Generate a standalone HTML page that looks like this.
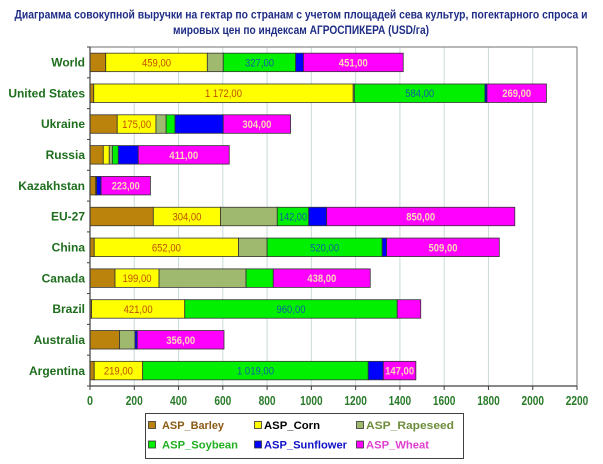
<!DOCTYPE html>
<html>
<head>
<meta charset="utf-8">
<style>
html,body{margin:0;padding:0;background:#fff;}
svg{display:block;}
.t{font-family:"Liberation Sans","DejaVu Sans",sans-serif;font-weight:bold;fill:#1f2d86;font-size:12px;}
.cat{font-family:"Liberation Sans",sans-serif;font-weight:bold;fill:#1e6e1e;font-size:12px;}
.tk{font-family:"Liberation Sans",sans-serif;font-weight:bold;fill:#2a7a2a;font-size:13px;}
.lc{font-family:"Liberation Sans",sans-serif;font-size:11px;fill:#c05000;}
.ls{font-family:"Liberation Sans",sans-serif;font-size:11px;fill:#1060a0;}
.lw{font-family:"Liberation Sans",sans-serif;font-size:11px;font-weight:bold;fill:#ffd6b8;}
.lg{font-family:"Liberation Sans",sans-serif;font-size:11px;font-weight:bold;}
</style>
</head>
<body>
<svg width="603" height="464" viewBox="0 0 603 464" xmlns="http://www.w3.org/2000/svg">
<rect x="0" y="0" width="603" height="464" fill="#fff"/>
<!-- Title -->
<text class="t" x="301" y="18.5" text-anchor="middle" textLength="573" lengthAdjust="spacingAndGlyphs">Диаграмма совокупной выручки на гектар по странам с учетом площадей сева культур, погектарного спроса и</text>
<text class="t" x="301" y="34" text-anchor="middle" textLength="256" lengthAdjust="spacingAndGlyphs">мировых цен по индексам АГРОСПИКЕРА (USD/га)</text>

<!-- gridlines -->
<g stroke="#c8dcd4" stroke-width="1">
<line x1="134.27" y1="47" x2="134.27" y2="386"/>
<line x1="178.55" y1="47" x2="178.55" y2="386"/>
<line x1="222.82" y1="47" x2="222.82" y2="386"/>
<line x1="267.09" y1="47" x2="267.09" y2="386"/>
<line x1="311.36" y1="47" x2="311.36" y2="386"/>
<line x1="355.64" y1="47" x2="355.64" y2="386"/>
<line x1="399.91" y1="47" x2="399.91" y2="386"/>
<line x1="444.18" y1="47" x2="444.18" y2="386"/>
<line x1="488.45" y1="47" x2="488.45" y2="386"/>
<line x1="532.73" y1="47" x2="532.73" y2="386"/>
</g>
<!-- border top/right -->
<line x1="90" y1="47" x2="577" y2="47" stroke="#8c8c8c" stroke-width="1.2"/>
<line x1="577" y1="47" x2="577" y2="386" stroke="#8c8c8c" stroke-width="1.2"/>

<!-- Bars -->
<g stroke="#333" stroke-width="0.8">
<!-- World c=62.41 -->
<rect x="90" y="53.16" width="15.72" height="18.5" fill="#bb830c"/>
<rect x="105.72" y="53.16" width="101.6" height="18.5" fill="#ffff00"/>
<rect x="207.32" y="53.16" width="15.94" height="18.5" fill="#9fba6e"/>
<rect x="223.26" y="53.16" width="72.39" height="18.5" fill="#00f000"/>
<rect x="295.65" y="53.16" width="7.74" height="18.5" fill="#0000ff"/>
<rect x="303.39" y="53.16" width="99.84" height="18.5" fill="#ff00ff"/>
<!-- US c=93.23 -->
<rect x="90" y="83.98" width="3.76" height="18.5" fill="#bb830c"/>
<rect x="93.76" y="83.98" width="259.44" height="18.5" fill="#ffff00"/>
<rect x="353.2" y="83.98" width="1.11" height="18.5" fill="#9fba6e"/>
<rect x="354.31" y="83.98" width="130.69" height="18.5" fill="#00f000"/>
<rect x="485" y="83.98" width="2" height="18.5" fill="#0000ff"/>
<rect x="487" y="83.98" width="59.45" height="18.5" fill="#ff00ff"/>
<!-- Ukraine c=124.05 -->
<rect x="90" y="114.8" width="27.23" height="18.5" fill="#bb830c"/>
<rect x="117.23" y="114.8" width="38.74" height="18.5" fill="#ffff00"/>
<rect x="155.97" y="114.8" width="10.18" height="18.5" fill="#9fba6e"/>
<rect x="166.15" y="114.8" width="8.85" height="18.5" fill="#00f000"/>
<rect x="175" y="114.8" width="48.26" height="18.5" fill="#0000ff"/>
<rect x="223.26" y="114.8" width="67.3" height="18.5" fill="#ff00ff"/>
<!-- Russia c=154.86 -->
<rect x="90" y="145.61" width="13.28" height="18.5" fill="#bb830c"/>
<rect x="103.28" y="145.61" width="5.98" height="18.5" fill="#ffff00"/>
<rect x="109.26" y="145.61" width="3.1" height="18.5" fill="#9fba6e"/>
<rect x="112.36" y="145.61" width="5.97" height="18.5" fill="#00f000"/>
<rect x="118.33" y="145.61" width="19.93" height="18.5" fill="#0000ff"/>
<rect x="138.26" y="145.61" width="90.98" height="18.5" fill="#ff00ff"/>
<!-- Kazakhstan c=185.68 -->
<rect x="90" y="176.43" width="5.76" height="18.5" fill="#bb830c"/>
<rect x="95.76" y="176.43" width="0.44" height="18.5" fill="#ffff00"/>
<rect x="96.2" y="176.43" width="0.44" height="18.5" fill="#9fba6e"/>
<rect x="96.64" y="176.43" width="4.43" height="18.5" fill="#0000ff"/>
<rect x="101.07" y="176.43" width="49.36" height="18.5" fill="#ff00ff"/>
<!-- EU-27 c=216.5 -->
<rect x="90" y="207.25" width="63.31" height="18.5" fill="#bb830c"/>
<rect x="153.31" y="207.25" width="67.29" height="18.5" fill="#ffff00"/>
<rect x="220.6" y="207.25" width="56.67" height="18.5" fill="#9fba6e"/>
<rect x="277.27" y="207.25" width="31.43" height="18.5" fill="#00f000"/>
<rect x="308.7" y="207.25" width="17.94" height="18.5" fill="#0000ff"/>
<rect x="326.64" y="207.25" width="188.15" height="18.5" fill="#ff00ff"/>
<!-- China c=247.32 -->
<rect x="90" y="238.07" width="4.21" height="18.5" fill="#bb830c"/>
<rect x="94.21" y="238.07" width="144.33" height="18.5" fill="#ffff00"/>
<rect x="238.54" y="238.07" width="28.55" height="18.5" fill="#9fba6e"/>
<rect x="267.09" y="238.07" width="115.11" height="18.5" fill="#00f000"/>
<rect x="382.2" y="238.07" width="4.43" height="18.5" fill="#0000ff"/>
<rect x="386.63" y="238.07" width="112.67" height="18.5" fill="#ff00ff"/>
<!-- Canada c=278.14 -->
<rect x="90" y="268.89" width="25.01" height="18.5" fill="#bb830c"/>
<rect x="115.01" y="268.89" width="44.05" height="18.5" fill="#ffff00"/>
<rect x="159.06" y="268.89" width="87" height="18.5" fill="#9fba6e"/>
<rect x="246.06" y="268.89" width="27.23" height="18.5" fill="#00f000"/>
<rect x="273.29" y="268.89" width="96.96" height="18.5" fill="#ff00ff"/>
<!-- Brazil c=308.95 -->
<rect x="90" y="299.7" width="1.55" height="18.5" fill="#bb830c"/>
<rect x="91.55" y="299.7" width="93.19" height="18.5" fill="#ffff00"/>
<rect x="184.74" y="299.7" width="212.51" height="18.5" fill="#00f000"/>
<rect x="397.25" y="299.7" width="23.47" height="18.5" fill="#ff00ff"/>
<!-- Australia c=339.77 -->
<rect x="90" y="330.52" width="29.5" height="18.5" fill="#bb830c"/>
<rect x="119.5" y="330.52" width="15.5" height="18.5" fill="#9fba6e"/>
<rect x="135" y="330.52" width="2.3" height="18.5" fill="#0000ff"/>
<rect x="137.3" y="330.52" width="86.7" height="18.5" fill="#ff00ff"/>
<!-- Argentina c=370.59 -->
<rect x="90" y="361.34" width="4.21" height="18.5" fill="#bb830c"/>
<rect x="94.21" y="361.34" width="48.47" height="18.5" fill="#ffff00"/>
<rect x="142.68" y="361.34" width="225.58" height="18.5" fill="#00f000"/>
<rect x="368.26" y="361.34" width="15.05" height="18.5" fill="#0000ff"/>
<rect x="383.31" y="361.34" width="32.54" height="18.5" fill="#ff00ff"/>
</g>

<!-- Bar labels -->
<text class="lc" x="156.5" y="66.4" text-anchor="middle" textLength="29" lengthAdjust="spacingAndGlyphs">459,00</text>
<text class="ls" x="259.5" y="66.4" text-anchor="middle" textLength="29" lengthAdjust="spacingAndGlyphs">327,00</text>
<text class="lw" x="353.3" y="66.4" text-anchor="middle" textLength="29" lengthAdjust="spacingAndGlyphs">451,00</text>

<text class="lc" x="223.5" y="97.2" text-anchor="middle" textLength="37" lengthAdjust="spacingAndGlyphs">1 172,00</text>
<text class="ls" x="419.7" y="97.2" text-anchor="middle" textLength="29" lengthAdjust="spacingAndGlyphs">584,00</text>
<text class="lw" x="516.7" y="97.2" text-anchor="middle" textLength="29" lengthAdjust="spacingAndGlyphs">269,00</text>

<text class="lc" x="136.6" y="128" text-anchor="middle" textLength="29" lengthAdjust="spacingAndGlyphs">175,00</text>
<text class="lw" x="256.9" y="128" text-anchor="middle" textLength="29" lengthAdjust="spacingAndGlyphs">304,00</text>

<text class="lw" x="183.75" y="158.9" text-anchor="middle" textLength="29" lengthAdjust="spacingAndGlyphs">411,00</text>

<text class="lw" x="125.75" y="189.7" text-anchor="middle" textLength="28" lengthAdjust="spacingAndGlyphs">223,00</text>

<text class="lc" x="186.96" y="220.5" text-anchor="middle" textLength="29" lengthAdjust="spacingAndGlyphs">304,00</text>
<text class="ls" x="293" y="220.5" text-anchor="middle" textLength="28" lengthAdjust="spacingAndGlyphs">142,00</text>
<text class="lw" x="420.7" y="220.5" text-anchor="middle" textLength="29" lengthAdjust="spacingAndGlyphs">850,00</text>

<text class="lc" x="166.4" y="251.3" text-anchor="middle" textLength="29" lengthAdjust="spacingAndGlyphs">652,00</text>
<text class="ls" x="324.6" y="251.3" text-anchor="middle" textLength="29" lengthAdjust="spacingAndGlyphs">520,00</text>
<text class="lw" x="443" y="251.3" text-anchor="middle" textLength="29" lengthAdjust="spacingAndGlyphs">509,00</text>

<text class="lc" x="137" y="282.1" text-anchor="middle" textLength="29" lengthAdjust="spacingAndGlyphs">199,00</text>
<text class="lw" x="321.8" y="282.1" text-anchor="middle" textLength="29" lengthAdjust="spacingAndGlyphs">438,00</text>

<text class="lc" x="138.1" y="313" text-anchor="middle" textLength="29" lengthAdjust="spacingAndGlyphs">421,00</text>
<text class="ls" x="291" y="313" text-anchor="middle" textLength="29" lengthAdjust="spacingAndGlyphs">960,00</text>

<text class="lw" x="180.7" y="343.8" text-anchor="middle" textLength="29" lengthAdjust="spacingAndGlyphs">356,00</text>

<text class="lc" x="118.4" y="374.6" text-anchor="middle" textLength="29" lengthAdjust="spacingAndGlyphs">219,00</text>
<text class="ls" x="255.5" y="374.6" text-anchor="middle" textLength="37" lengthAdjust="spacingAndGlyphs">1 019,00</text>
<text class="lw" x="399.6" y="374.6" text-anchor="middle" textLength="29" lengthAdjust="spacingAndGlyphs">147,00</text>

<!-- Axes -->
<line x1="90" y1="47" x2="90" y2="386" stroke="#404040" stroke-width="1.2"/>
<line x1="90" y1="386" x2="577" y2="386" stroke="#404040" stroke-width="1.2"/>
<g stroke="#404040" stroke-width="1">
<line x1="87" y1="47" x2="90" y2="47"/>
<line x1="87" y1="77.82" x2="90" y2="77.82"/>
<line x1="87" y1="108.64" x2="90" y2="108.64"/>
<line x1="87" y1="139.45" x2="90" y2="139.45"/>
<line x1="87" y1="170.27" x2="90" y2="170.27"/>
<line x1="87" y1="201.09" x2="90" y2="201.09"/>
<line x1="87" y1="231.91" x2="90" y2="231.91"/>
<line x1="87" y1="262.73" x2="90" y2="262.73"/>
<line x1="87" y1="293.55" x2="90" y2="293.55"/>
<line x1="87" y1="324.36" x2="90" y2="324.36"/>
<line x1="87" y1="355.18" x2="90" y2="355.18"/>
<line x1="87" y1="386" x2="90" y2="386"/>
<line x1="90" y1="386" x2="90" y2="390"/>
<line x1="134.27" y1="386" x2="134.27" y2="390"/>
<line x1="178.55" y1="386" x2="178.55" y2="390"/>
<line x1="222.82" y1="386" x2="222.82" y2="390"/>
<line x1="267.09" y1="386" x2="267.09" y2="390"/>
<line x1="311.36" y1="386" x2="311.36" y2="390"/>
<line x1="355.64" y1="386" x2="355.64" y2="390"/>
<line x1="399.91" y1="386" x2="399.91" y2="390"/>
<line x1="444.18" y1="386" x2="444.18" y2="390"/>
<line x1="488.45" y1="386" x2="488.45" y2="390"/>
<line x1="532.73" y1="386" x2="532.73" y2="390"/>
<line x1="577" y1="386" x2="577" y2="390"/>
</g>

<!-- Category labels -->
<text class="cat" x="85" y="66.6" text-anchor="end">World</text>
<text class="cat" x="85" y="97.4" text-anchor="end">United States</text>
<text class="cat" x="85" y="128.2" text-anchor="end">Ukraine</text>
<text class="cat" x="85" y="159" text-anchor="end">Russia</text>
<text class="cat" x="85" y="189.9" text-anchor="end">Kazakhstan</text>
<text class="cat" x="85" y="220.7" text-anchor="end">EU-27</text>
<text class="cat" x="85" y="251.5" text-anchor="end">China</text>
<text class="cat" x="85" y="282.3" text-anchor="end">Canada</text>
<text class="cat" x="85" y="313.1" text-anchor="end">Brazil</text>
<text class="cat" x="85" y="344" text-anchor="end">Australia</text>
<text class="cat" x="85" y="374.8" text-anchor="end">Argentina</text>

<!-- X tick labels -->
<text class="tk" x="90" y="405" text-anchor="middle" textLength="6" lengthAdjust="spacingAndGlyphs">0</text>
<text class="tk" x="134.27" y="405" text-anchor="middle" textLength="17" lengthAdjust="spacingAndGlyphs">200</text>
<text class="tk" x="178.55" y="405" text-anchor="middle" textLength="17" lengthAdjust="spacingAndGlyphs">400</text>
<text class="tk" x="222.82" y="405" text-anchor="middle" textLength="17" lengthAdjust="spacingAndGlyphs">600</text>
<text class="tk" x="267.09" y="405" text-anchor="middle" textLength="17" lengthAdjust="spacingAndGlyphs">800</text>
<text class="tk" x="311.36" y="405" text-anchor="middle" textLength="22.5" lengthAdjust="spacingAndGlyphs">1000</text>
<text class="tk" x="355.64" y="405" text-anchor="middle" textLength="22.5" lengthAdjust="spacingAndGlyphs">1200</text>
<text class="tk" x="399.91" y="405" text-anchor="middle" textLength="22.5" lengthAdjust="spacingAndGlyphs">1400</text>
<text class="tk" x="444.18" y="405" text-anchor="middle" textLength="22.5" lengthAdjust="spacingAndGlyphs">1600</text>
<text class="tk" x="488.45" y="405" text-anchor="middle" textLength="22.5" lengthAdjust="spacingAndGlyphs">1800</text>
<text class="tk" x="532.73" y="405" text-anchor="middle" textLength="22.5" lengthAdjust="spacingAndGlyphs">2000</text>
<text class="tk" x="577" y="405" text-anchor="middle" textLength="22.5" lengthAdjust="spacingAndGlyphs">2200</text>

<!-- Legend -->
<rect x="145.5" y="413.5" width="318" height="45" fill="#fff" stroke="#404040" stroke-width="1"/>
<g stroke="#333" stroke-width="0.8">
<rect x="148.5" y="421.5" width="7" height="7" fill="#bb830c"/>
<rect x="254.5" y="421.5" width="7" height="7" fill="#ffff00"/>
<rect x="356.5" y="421.5" width="7" height="7" fill="#9fba6e"/>
<rect x="148.5" y="441" width="7" height="7" fill="#00f000"/>
<rect x="254.5" y="441" width="7" height="7" fill="#0000ff"/>
<rect x="356.5" y="441" width="7" height="7" fill="#ff00ff"/>
</g>
<text class="lg" x="162" y="429" fill="#8b5a14" textLength="62" lengthAdjust="spacingAndGlyphs">ASP_Barley</text>
<text class="lg" x="264" y="429" fill="#000" textLength="56" lengthAdjust="spacingAndGlyphs">ASP_Corn</text>
<text class="lg" x="366" y="429" fill="#6e8c3c" textLength="88" lengthAdjust="spacingAndGlyphs">ASP_Rapeseed</text>
<text class="lg" x="162" y="448.5" fill="#20b020" textLength="76" lengthAdjust="spacingAndGlyphs">ASP_Soybean</text>
<text class="lg" x="264" y="448.5" fill="#1010c8" textLength="83" lengthAdjust="spacingAndGlyphs">ASP_Sunflower</text>
<text class="lg" x="366" y="448.5" fill="#e040d0" textLength="63" lengthAdjust="spacingAndGlyphs">ASP_Wheat</text>
</svg>
</body>
</html>
